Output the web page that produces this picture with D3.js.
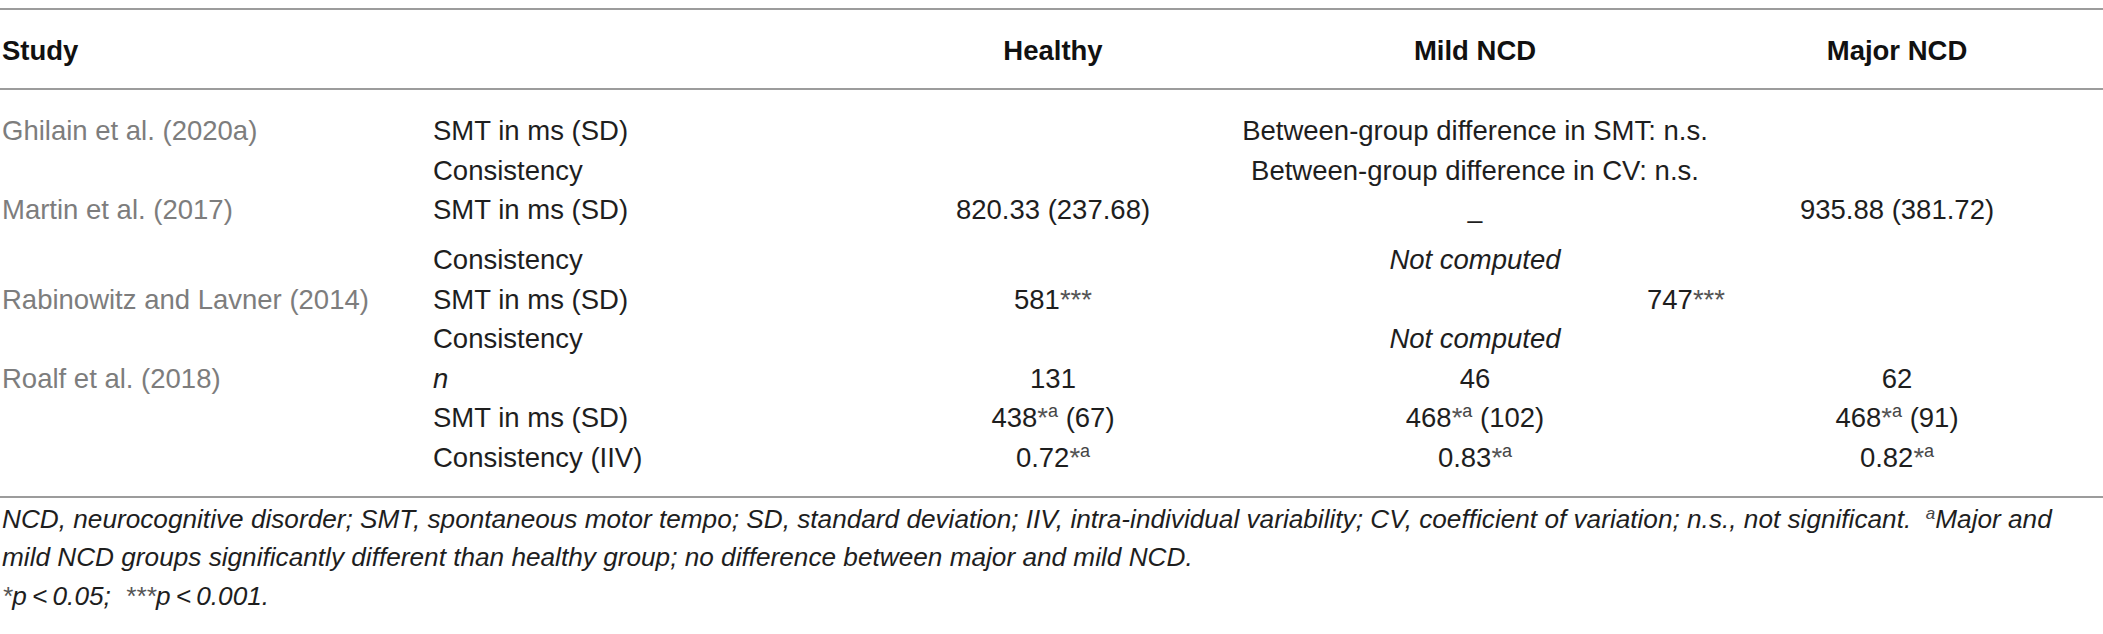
<!DOCTYPE html>
<html>
<head>
<meta charset="utf-8">
<title>SMT by group</title>
<style>
  body { margin: 0; background: #fff; }
  svg text { font-family: "Liberation Sans", Arial, sans-serif; }
</style>
<script src="https://d3js.org/d3.v7.min.js"></script>
</head>
<body>
<div id="table"></div>
<script>
// table content -- ^{..} = superscript, _{..} = italic
var groups = ['Healthy', 'Mild NCD', 'Major NCD'];
var studies = ['Ghilain et al. (2020a)', 'Martin et al. (2017)', 'Rabinowitz and Lavner (2014)', 'Roalf et al. (2018)'];
var studyRows = [0, 2, 4, 6];
var measures = ['SMT in ms (SD)', 'Consistency', 'SMT in ms (SD)', 'Consistency', 'SMT in ms (SD)',
                'Consistency', '_{n}', 'SMT in ms (SD)', 'Consistency (IIV)'];
// [row, text]
var healthyVals = [[2, '820.33 (237.68)'], [4, '581***'], [6, '131'], [7, '438*^{a} (67)'], [8, '0.72*^{a}']];
var mildVals = [[2, '\u2013'], [6, '46'], [7, '468*^{a} (102)'], [8, '0.83*^{a}']];
var majorVals = [[2, '935.88 (381.72)'], [6, '62'], [7, '468*^{a} (91)'], [8, '0.82*^{a}']];
// [row, first group, last group, text]
var spanVals = [
    [0, 0, 2, 'Between-group difference in SMT: n.s.'],
    [1, 0, 2, 'Between-group difference in CV: n.s.'],
    [3, 0, 2, '_{Not computed}'],
    [4, 1, 2, '747***'],
    [5, 0, 2, '_{Not computed}']
];
var notes = [
    'NCD, neurocognitive disorder; SMT, spontaneous motor tempo; SD, standard deviation; IIV, intra-individual variability; CV, coefficient of variation; n.s., not significant.\u00a0\u00a0^{a}Major and',
    'mild NCD groups significantly different than healthy group; no difference between major and mild NCD.',
    '*p\u2009<\u20090.05;\u00a0\u00a0***p\u2009<\u20090.001.'
];

var width = 2103, height = 634;
var svg = d3.select('#table').append('svg')
    .attr('width', width)
    .attr('height', height);

var x = d3.scaleBand().domain(groups).range([842, 2108]);
function colCenter(a, b) {
    return (x(groups[a]) + x(groups[b]) + x.bandwidth()) / 2;
}
// Martin's SMT row is a bit taller (dash sits low)
var yBase = d3.scaleLinear().domain([0, 8]).range([130, 447]);
function yRow(i) { return yBase(i) + (i > 2 ? 10 : 0) + 10; }

// write text with ^{sup} and _{italic} pieces; asterisks drawn lighter
function rich(sel, str, supSize, lift) {
    var re = /\^\{([^}]*)\}|_\{([^}]*)\}|(\*+)|([^\^_*]+)/g, m, shifted = false;
    while ((m = re.exec(str)) !== null) {
        var t = sel.append('tspan');
        if (m[1] !== undefined) {
            t.text(m[1]).attr('font-size', supSize).attr('fill', '#444');
            if (!shifted) t.attr('dy', -lift);
            shifted = true;
            continue;
        }
        if (m[2] !== undefined) t.text(m[2]).attr('font-style', 'italic');
        else if (m[3] !== undefined) t.text(m[3]).attr('fill', '#555');
        else t.text(m[4]);
        if (shifted) { t.attr('dy', lift); shifted = false; }
    }
}

function hline(y) {
    svg.append('line')
        .attr('x1', 0).attr('x2', width)
        .attr('y1', y).attr('y2', y)
        .attr('stroke', '#9c9c9c')
        .attr('stroke-width', 2);
}
hline(9);
hline(89);
hline(497);

// header
var head = svg.append('g').attr('font-weight', 'bold').attr('font-size', 27.5).attr('fill', '#111');
head.append('text').attr('x', 2).attr('y', 60).text('Study');
head.selectAll('.grp')
    .data(groups)
    .enter()
    .append('text')
    .attr('class', 'grp')
    .attr('x', function(d) { return x(d) + x.bandwidth() / 2; })
    .attr('y', 60)
    .attr('text-anchor', 'middle')
    .text(function(d) { return d; });

// study names
svg.selectAll('.study')
    .data(studies)
    .enter()
    .append('text')
    .attr('class', 'study')
    .attr('x', 2)
    .attr('y', function(d, i) { return yRow(studyRows[i]); })
    .attr('font-size', 27.5)
    .attr('fill', '#7d7d7d')
    .text(function(d) { return d; });

// measures
svg.selectAll('.measure')
    .data(measures)
    .enter()
    .append('text')
    .attr('class', 'measure')
    .attr('x', 433)
    .attr('y', function(d, i) { return yRow(i); })
    .attr('font-size', 27.5)
    .attr('fill', '#1e1e1e')
    .each(function(d) { rich(d3.select(this), d, 18, 10); });

// group values
[healthyVals, mildVals, majorVals].forEach(function(vals, g) {
    svg.selectAll('.val' + g)
        .data(vals)
        .enter()
        .append('text')
        .attr('class', 'val' + g)
        .attr('x', colCenter(g, g))
        .attr('y', function(d) { return yRow(d[0]) + (d[1] === '\u2013' ? 10 : 0); })
        .attr('text-anchor', 'middle')
        .attr('font-size', 27.5)
        .attr('fill', '#1e1e1e')
        .each(function(d) { rich(d3.select(this), d[1], 18, 10); });
});

// cells spanning groups
svg.selectAll('.span')
    .data(spanVals)
    .enter()
    .append('text')
    .attr('class', 'span')
    .attr('x', function(d) { return colCenter(d[1], d[2]); })
    .attr('y', function(d) { return yRow(d[0]); })
    .attr('text-anchor', 'middle')
    .attr('font-size', 27.5)
    .attr('fill', '#1e1e1e')
    .each(function(d) { rich(d3.select(this), d[3], 18, 10); });

// footnotes
svg.selectAll('.note')
    .data(notes)
    .enter()
    .append('text')
    .attr('class', 'note')
    .attr('x', 2)
    .attr('y', function(d, i) { return [528, 566, 605][i]; })
    .attr('font-size', 26.2)
    .attr('font-style', 'italic')
    .attr('fill', '#1e1e1e')
    .each(function(d) { rich(d3.select(this), d, 17, 9); });
</script>
</body>
</html>
